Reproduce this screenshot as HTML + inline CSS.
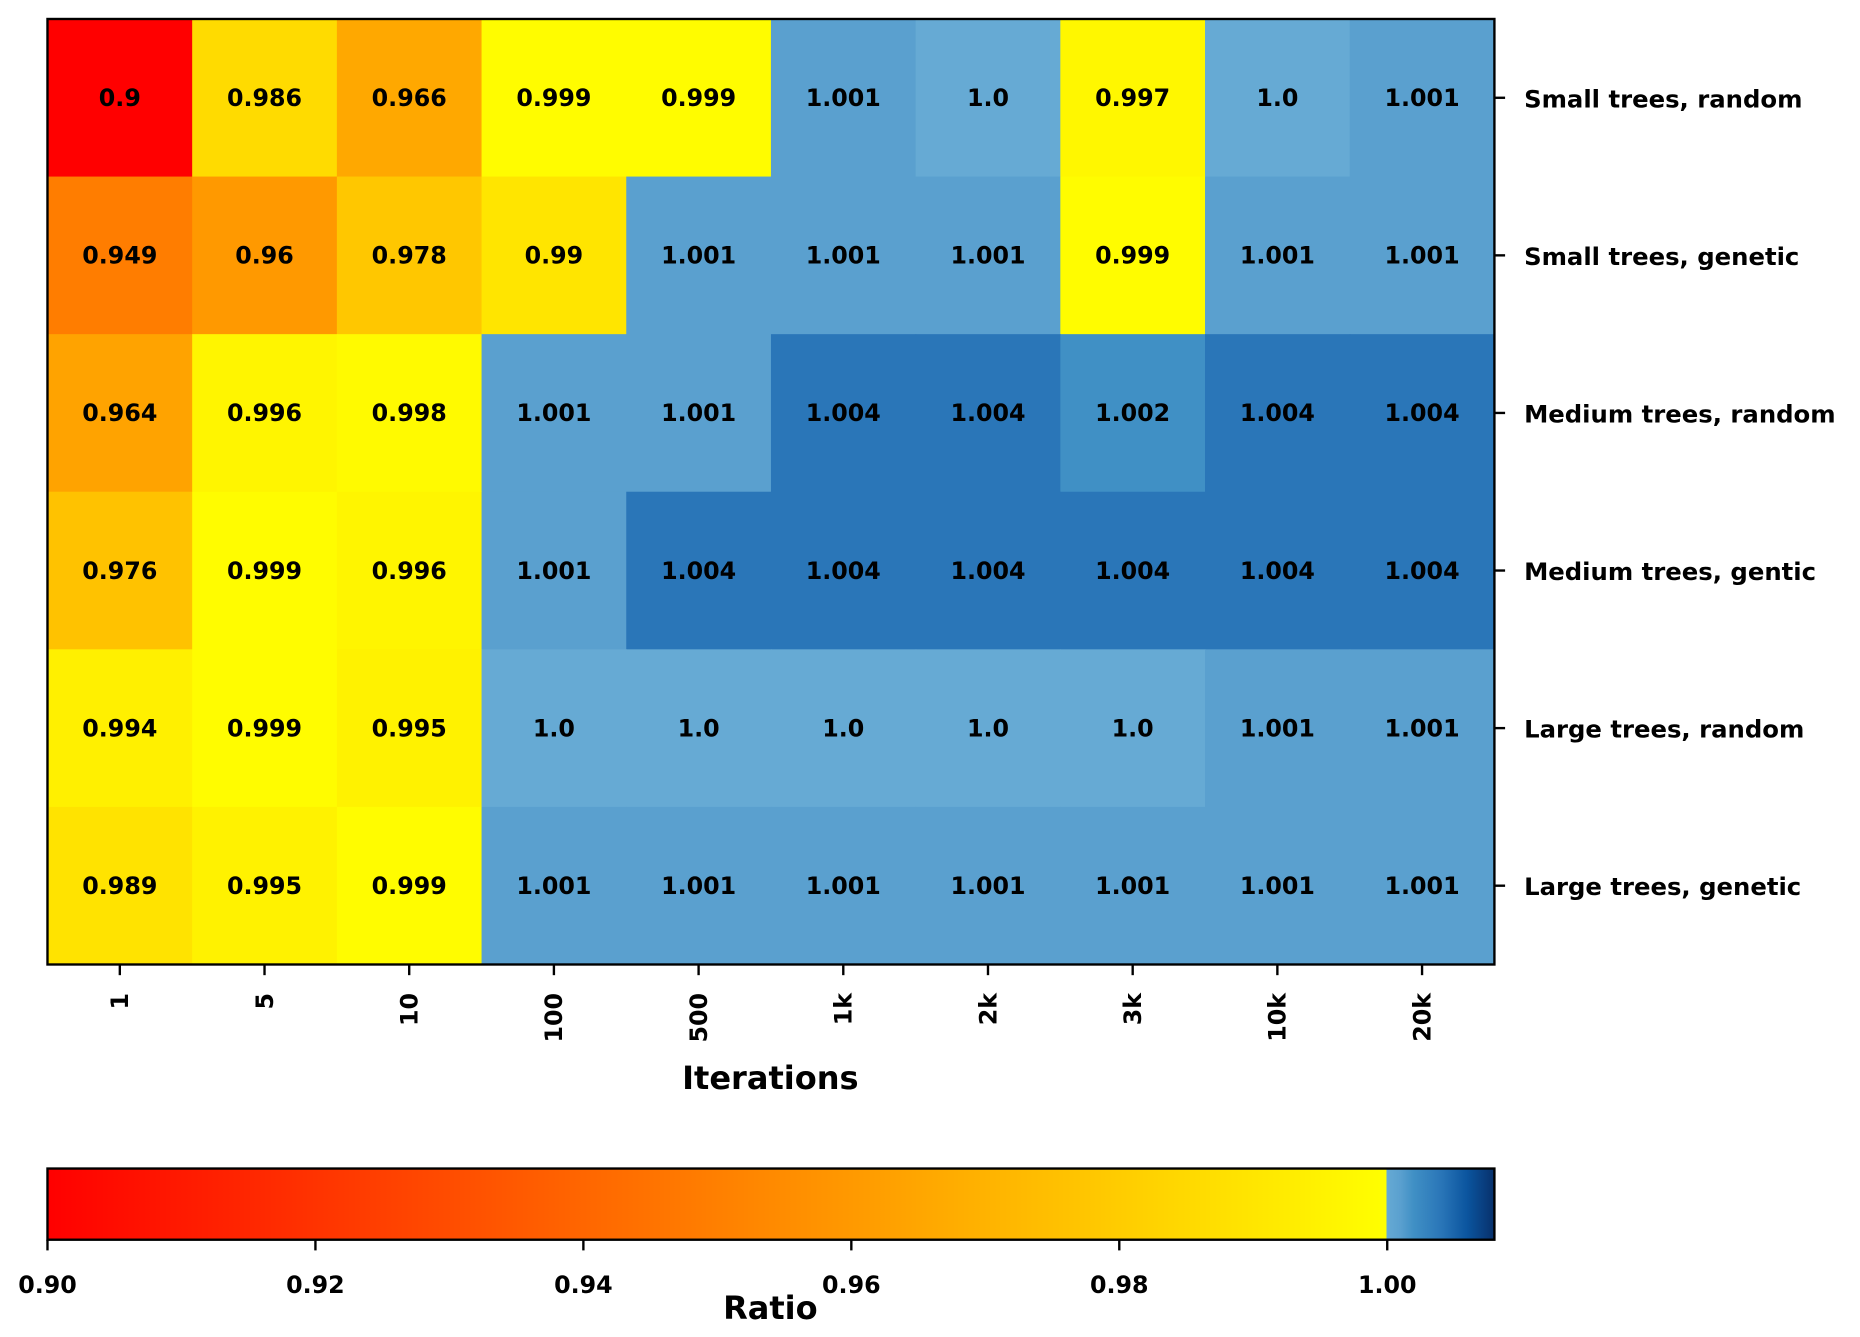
<!DOCTYPE html>
<html><head><meta charset="utf-8"><style>
html,body{margin:0;padding:0;background:#fff;}
svg{display:block;font-family:"DejaVu Sans","Liberation Sans",sans-serif;font-weight:bold;}
</style></head><body>
<svg id="chart" width="1860" height="1337" viewBox="0 0 1567 1127" preserveAspectRatio="none" xmlns="http://www.w3.org/2000/svg">
<defs>
<linearGradient id="cbgrad" x1="0" x2="1" y1="0" y2="0">
<stop offset="0" stop-color="#ff0000"/>
<stop offset="0.9255" stop-color="#ffff00"/>
<stop offset="0.9255" stop-color="#66aad4"/>
<stop offset="0.935" stop-color="#5aa0cf"/>
<stop offset="0.944" stop-color="#4090c5"/>
<stop offset="0.963" stop-color="#2a76b8"/>
<stop offset="0.981" stop-color="#0b559f"/>
<stop offset="1" stop-color="#08306b"/>
</linearGradient>
</defs>
<g id="cells"></g>
<rect x="40" y="16" width="1219" height="797" fill="none" stroke="#000" stroke-width="2"/>
<g id="xticks"></g>
<g id="yticks"></g>
<text x="649" y="918" font-size="27" text-anchor="middle">Iterations</text>
<rect x="40" y="985" width="1219" height="60" fill="url(#cbgrad)" stroke="#000" stroke-width="2"/>
<g id="cbticks"></g>
<text x="649" y="1112" font-size="27" text-anchor="middle">Ratio</text>
</svg>
<script>
const categories = ["1","5","10","100","500","1k","2k","3k","10k","20k"];
const rowLabels = ["Small trees, random","Small trees, genetic","Medium trees, random","Medium trees, gentic","Large trees, random","Large trees, genetic"];
const row0 = [0.9,0.986,0.966,0.999,0.999,1.001,1.0,0.997,1.0,1.001];
const row1 = [0.949,0.96,0.978,0.99,1.001,1.001,1.001,0.999,1.001,1.001];
const row2 = [0.964,0.996,0.998,1.001,1.001,1.004,1.004,1.002,1.004,1.004];
const row3 = [0.976,0.999,0.996,1.001,1.004,1.004,1.004,1.004,1.004,1.004];
const row4 = [0.994,0.999,0.995,1.0,1.0,1.0,1.0,1.0,1.001,1.001];
const row5 = [0.989,0.995,0.999,1.001,1.001,1.001,1.001,1.001,1.001,1.001];
const rows = [row0,row1,row2,row3,row4,row5];
const cbTicks = [0.90,0.92,0.94,0.96,0.98,1.00];
const vmin = 0.9, vmax = 1.008;

const NS="http://www.w3.org/2000/svg";
const X0=40,X1=1259,Y0=16,Y1=813;
const cw=(X1-X0)/categories.length, rh=(Y1-Y0)/rows.length;
function xPos(i){return X0+i*cw;}
function yPos(j){return Y0+j*rh;}
function cbX(v){return X0+(v-vmin)/(vmax-vmin)*(X1-X0);}
function hex(c){return '#'+c.map(x=>Math.round(x).toString(16).padStart(2,'0')).join('');}
const blueStops=[[1.0,[0x66,0xaa,0xd4]],[1.001,[0x5a,0xa0,0xcf]],[1.002,[0x40,0x90,0xc5]],[1.004,[0x2a,0x76,0xb8]],[1.006,[0x0b,0x55,0x9f]],[1.008,[0x08,0x30,0x6b]]];
function color(v){
  if(v<1.0){const t=Math.max(0,(v-0.9)/0.1);return hex([255,255*t,0]);}
  for(let k=0;k<blueStops.length-1;k++){const a=blueStops[k],b=blueStops[k+1];
    if(v<=b[0]){const t=(v-a[0])/(b[0]-a[0]);return hex(a[1].map((c,i)=>c+(b[1][i]-c)*t));}}
  return hex(blueStops[blueStops.length-1][1]);
}
function mk(tag,attrs,parent){const e=document.createElementNS(NS,tag);for(const k in attrs)e.setAttribute(k,attrs[k]);parent.appendChild(e);return e;}
const cells=document.getElementById('cells');
rows.forEach((r,j)=>r.forEach((v,i)=>{
  const rc=mk('rect',{x:xPos(i),y:yPos(j),width:cw+0.5,height:rh+0.5,fill:color(v)},cells);
  
  
  const t=mk('text',{x:xPos(i)+cw/2,y:yPos(j)+rh/2+7,'font-size':20,'text-anchor':'middle',fill:'#000'},cells);
  t.textContent=String(v).includes('.')?String(v):v.toFixed(1);
  
  
}));
const xt=document.getElementById('xticks');
categories.forEach((c,i)=>{
  const x=xPos(i)+cw/2;
  mk('line',{x1:x,x2:x,y1:Y1,y2:Y1+9,stroke:'#000','stroke-width':2},xt);
  const t=mk('text',{x:0,y:0,'font-size':20,'text-anchor':'end',transform:`translate(${x+7},${Y1+24}) rotate(-90)`},xt);
  t.textContent=c;
  
  
});
const yt=document.getElementById('yticks');
rowLabels.forEach((l,j)=>{
  const y=yPos(j)+rh/2;
  mk('line',{x1:X1,x2:X1+9,y1:y,y2:y,stroke:'#000','stroke-width':2},yt);
  const t=mk('text',{x:X1+25,y:y+8,'font-size':20.5},yt);
  t.textContent=l;
  
  
});
const cb=document.getElementById('cbticks');
cbTicks.forEach(v=>{
  const x=cbX(v);
  mk('line',{x1:x,x2:x,y1:1045,y2:1054,stroke:'#000','stroke-width':2},cb);
  const t=mk('text',{x:x,y:1090,'font-size':20,'text-anchor':'middle'},cb);
  t.textContent=v.toFixed(2);
  
  
});
</script>
</body></html>
